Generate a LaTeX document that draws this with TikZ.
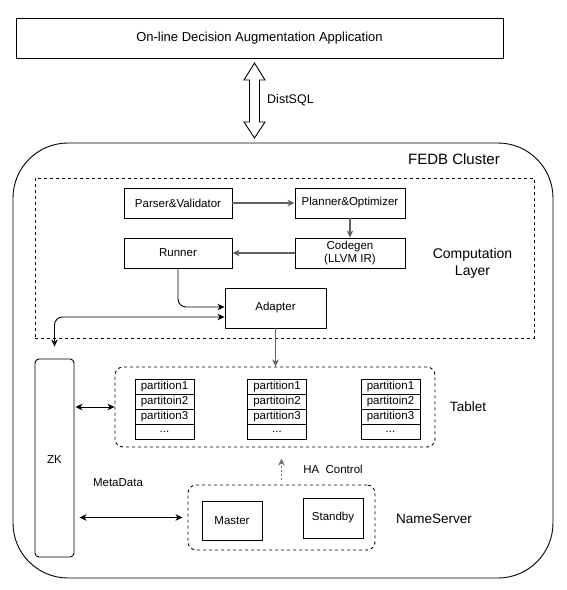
\documentclass[tikz,border=0pt]{standalone}
\usepackage{fontspec}
\setmainfont{Liberation Sans}
\usetikzlibrary{arrows.meta,calc}
\begin{document}
\begin{tikzpicture}[x=1pt,y=-1pt,
  >={Stealth[length=7pt,width=6.5pt,inset=2pt]},
  box/.style={draw,line width=0.9pt,align=center,inner sep=0pt,font=\fontsize{11.5}{13.5}\selectfont},
  dbox/.style={draw,line width=0.9pt,dash pattern=on 3pt off 3pt,inner sep=0pt},
  lbl/.style={align=center,inner sep=0pt,font=\fontsize{13.5}{20}\selectfont},
  slbl/.style={align=center,inner sep=0pt,font=\fontsize{11.5}{13.5}\selectfont},
  conn/.style={draw=black,line width=0.9pt},
  gline/.style={draw=black!62,line width=1.3pt},
  dotline/.style={draw=black!55,line width=0.8pt,dash pattern=on 2pt off 2pt},
  cell/.style={draw,line width=0.9pt,minimum width=59pt,minimum height=15pt,inner sep=0pt,font=\fontsize{11.5}{13}\selectfont}
]
\useasboundingbox (0,0) rectangle (566,590);

% application
\node[box,minimum width=487pt,minimum height=40pt,font=\fontsize{13}{15}\selectfont] (app) at (259.5,38) {On-line Decision Augmentation Application};

% cluster
\node[draw,line width=0.9pt,rounded corners=55pt,minimum width=540pt,minimum height=435pt,inner sep=0pt] (cluster) at (283,360.5) {};
\node[lbl,font=\fontsize{15}{18}\selectfont] (clabel) at (454,159) {FEDB Cluster};

% DistSQL block arrow
\coordinate (dtop) at (254.5,63);
\draw[line width=0.9pt] (dtop) -- ++(10.5,17) -- ++(-5.5,0) -- ++(0,42) -- ++(5.5,0) -- ++(-10.5,16)
  -- ++(-10.5,-16) -- ++(5.5,0) -- ++(0,-42) -- ++(-5.5,0) -- cycle;
\node[slbl,font=\fontsize{12.5}{14}\selectfont,anchor=west] (dist) at (267,100) {DistSQL};

% computation layer
\node[dbox,minimum width=499pt,minimum height=160pt] (comp) at (284.5,258) {};
\node[lbl,font=\fontsize{14}{17}\selectfont] (complbl) at (472.5,263.5) {Computation\\Layer};

\node[box,minimum width=108pt,minimum height=30pt] (parser) at (178,203) {Parser\&Validator};
\node[box,minimum width=110pt,minimum height=30pt] (planner) at (350,203) {Planner\&Optimizer};
\node[box,minimum width=110pt,minimum height=30pt] (codegen) at (350,253) {Codegen\\(LLVM IR)};
\node[box,minimum width=108pt,minimum height=30pt] (runner) at (178,253) {Runner};
\node[box,minimum width=101pt,minimum height=40pt] (adapter) at (275.5,308) {Adapter};

% tablet
\node[dbox,rounded corners=8pt,minimum width=320pt,minimum height=80pt] (tablet) at (275,407) {};
\node[lbl] (tabletlbl) at (468,407) {Tablet};
\foreach \n/\x in {a/164.5,b/277,c/390.5}{
  \node[cell] (\n1) at (\x,386.5) {partition1};
  \node[cell] (\n2) at (\x,401.5) {partitoin2};
  \node[cell] (\n3) at (\x,416.5) {partition3};
  \node[cell] (\n4) at (\x,431.5) {...};
}

% ZK
\node[draw,line width=0.9pt,rounded corners=4pt,minimum width=39pt,minimum height=198pt,inner sep=0pt] (zk) at (54.5,458) {};
\node[slbl] (zklbl) at (54.5,460) {ZK};

% nameserver
\node[dbox,rounded corners=8pt,minimum width=187pt,minimum height=65pt] (ns) at (281.5,517.5) {};
\node[box,minimum width=60pt,minimum height=39pt] (master) at (232,520.5) {Master};
\node[box,minimum width=60pt,minimum height=40pt] (standby) at (333,518) {Standby};
\node[lbl] (nslbl) at (434,519) {NameServer};
\node[slbl] (meta) at (118,483) {MetaData};
\node[slbl] (ha) at (333,469) {HA\ \ Control};

% connectors
\draw[gline,->] (parser) -- (planner);
\draw[gline,->] (planner) -- (codegen);
\draw[gline,->] (codegen) -- (runner);
\draw[conn,->,rounded corners=8pt] (runner.south) |- ($(adapter.west)+(0,-1)$);
\draw[conn,<->,rounded corners=8pt,shorten <=12pt] (zk.north) |- ($(adapter.west)+(0,9)$);
\draw[gline,->] (adapter.south) -- (adapter.south |- tablet.north);
\draw[conn,<->,shorten <=1pt] (zk.east |- tablet.west) -- (tablet.west);
\draw[conn,<->,shorten <=5pt,shorten >=5pt] (zk.east |- ns.west) -- (ns.west);
\draw[dotline,->,shorten <=5pt,shorten >=11pt] (ns.north) -- (ns.north |- tablet.south);
\end{tikzpicture}
\end{document}
